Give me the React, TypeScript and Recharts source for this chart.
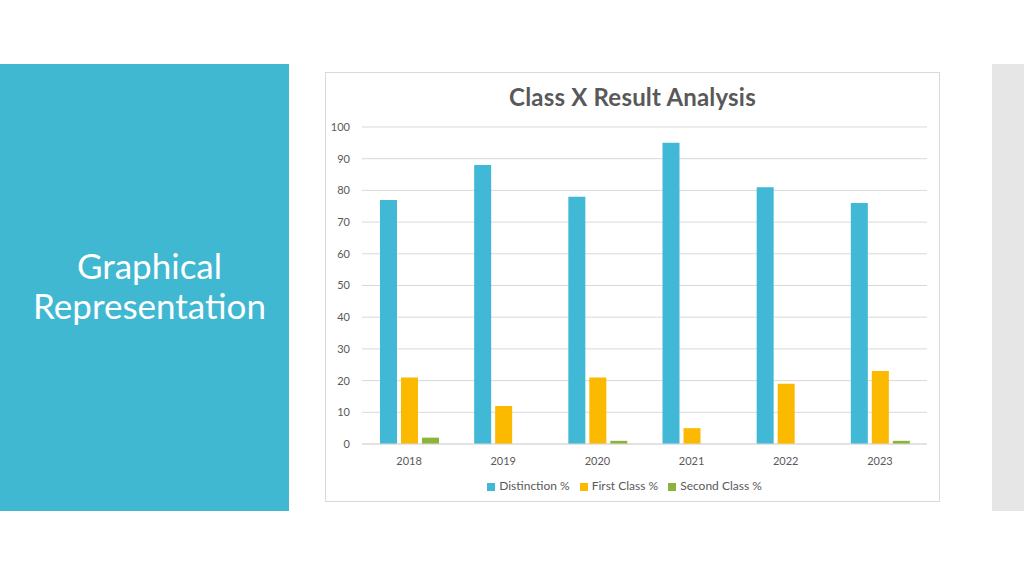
import React from 'react';
import { BarChart, Bar, XAxis, YAxis, CartesianGrid, Legend } from 'recharts';

// Class X results by year
const years = ['2018', '2019', '2020', '2021', '2022', '2023'];
const distinction = [77, 88, 78, 95, 81, 76];
const firstClass = [21, 12, 21, 5, 19, 23];
const secondClass = [2, 0, 1, 0, 0, 1];
const yTicks = [0, 10, 20, 30, 40, 50, 60, 70, 80, 90, 100];

const chartData = years.map((year, i) => ({
  year,
  distinction: distinction[i],
  firstClass: firstClass[i],
  secondClass: secondClass[i],
}));

const font = 'Lato, "Open Sans", sans-serif';
const tickStyle = { fontSize: 11, fill: '#595959', fontFamily: font };

export default function App() {
  return (
    <div style={{ position: 'fixed', left: 0, top: 0, width: 1024, height: 576, background: '#fff', fontFamily: font }}>
      {/* left title panel */}
      <div
        style={{
          position: 'absolute', left: 0, top: 64, width: 289, height: 447,
          background: '#40b8d2', color: '#fff', display: 'flex',
          alignItems: 'center', justifyContent: 'center', textAlign: 'center',
          fontSize: 35, lineHeight: '40px', paddingBottom: 6, paddingLeft: 10, boxSizing: 'border-box',
        }}
      >
        Graphical<br />Representation
      </div>

      {/* right gray strip */}
      <div style={{ position: 'absolute', left: 992, top: 64, width: 32, height: 447, background: '#e6e6e6' }} />

      {/* chart frame */}
      <div
        style={{
          position: 'absolute', left: 325, top: 72, width: 615, height: 430,
          border: '1px solid #d9d9d9', boxSizing: 'border-box', background: '#fff',
        }}
      >
        <div
          style={{
            position: 'absolute', left: 0, right: 0, top: 9, textAlign: 'center',
            fontSize: 24, fontWeight: 700, color: '#595959', letterSpacing: 0.2,
          }}
        >
          Class X Result Analysis
        </div>
        <BarChart
          width={613}
          height={428}
          data={chartData}
          margin={{ top: 54, right: 12, left: 6, bottom: 8 }}
          barSize={17}
          barGap={4}
        >
          <CartesianGrid vertical={false} stroke="#d9d9d9" />
          <XAxis
            dataKey="year"
            tick={tickStyle}
            tickLine={false}
            axisLine={{ stroke: '#d9d9d9' }}
            height={34}
            tickMargin={7}
          />
          <YAxis
            domain={[0, 100]}
            ticks={yTicks}
            tick={tickStyle}
            tickLine={false}
            axisLine={false}
            width={30}
            tickMargin={6}
          />
          <Legend
            verticalAlign="bottom"
            iconType="square"
            iconSize={8}
            wrapperStyle={{ fontSize: 12, color: '#595959', fontFamily: font }}
            formatter={(value) => <span style={{ color: '#595959' }}>{value}</span>}
          />
          <Bar dataKey="distinction" name="Distinction %" fill="#41b8d5" isAnimationActive={false} />
          <Bar dataKey="firstClass" name="First Class %" fill="#fbb900" isAnimationActive={false} />
          <Bar dataKey="secondClass" name="Second Class %" fill="#8db43a" isAnimationActive={false} />
        </BarChart>
      </div>
    </div>
  );
}
